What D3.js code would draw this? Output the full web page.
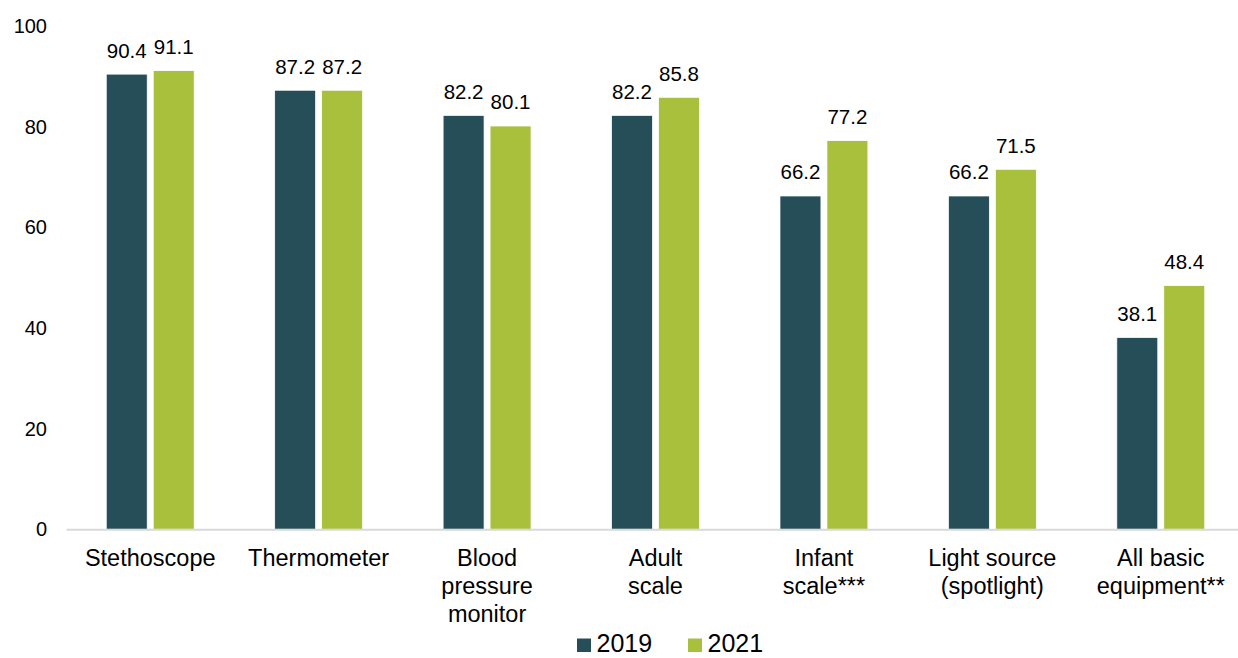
<!DOCTYPE html>
<html>
<head>
<meta charset="utf-8">
<script src="https://cdn.jsdelivr.net/npm/d3@7"></script>
<style>
  body { margin: 0; background: #fff; }
  svg { display: block; font-family: "Liberation Sans", Arial, sans-serif; }
</style>
</head>
<body>
<svg id="chart"></svg>
<script>
// Chart data
var categories = [
    ["Stethoscope"],
    ["Thermometer"],
    ["Blood", "pressure", "monitor"],
    ["Adult", "scale"],
    ["Infant", "scale***"],
    ["Light source", "(spotlight)"],
    ["All basic", "equipment**"]
];
var years = ["2019", "2021"];
var values2019 = [90.4, 87.2, 82.2, 82.2, 66.2, 66.2, 38.1];
var values2021 = [91.1, 87.2, 80.1, 85.8, 77.2, 71.5, 48.4];
var yTicks = [0, 20, 40, 60, 80, 100];

var colors = { "2019": "#264e59", "2021": "#a9c03c" };

var w = 1238, h = 658;
var svg = d3.select("#chart").attr("width", w).attr("height", h);

var catKeys = categories.map(function (c) { return c.join(" "); });

// x scale for categories
var xScale = d3.scaleBand()
    .domain(catKeys)
    .range([66, 1245])
    .paddingInner(0.478)
    .paddingOuter(0.239);

// inner scale for the two years
var xInner = d3.scaleBand()
    .domain(years)
    .range([0, xScale.bandwidth()])
    .paddingInner(0.128);

var yScale = d3.scaleLinear()
    .domain([0, 100])
    .range([529.3, 25.8]);

// y tick labels (no axis line)
svg.append("g")
    .selectAll("text")
    .data(yTicks)
    .enter().append("text")
    .attr("x", 47)
    .attr("y", function (d) { return yScale(d); })
    .attr("dy", "0.35em")
    .attr("text-anchor", "end")
    .attr("font-size", "20px")
    .attr("fill", "#000")
    .text(function (d) { return d; });

// bars
var rows = [];
catKeys.forEach(function (k, i) {
    rows.push({ cat: k, year: "2019", value: values2019[i] });
    rows.push({ cat: k, year: "2021", value: values2021[i] });
});

svg.append("g")
    .selectAll("rect")
    .data(rows)
    .enter().append("rect")
    .attr("x", function (d) { return xScale(d.cat) + xInner(d.year); })
    .attr("y", function (d) { return yScale(d.value); })
    .attr("width", xInner.bandwidth())
    .attr("height", function (d) { return yScale(0) - yScale(d.value); })
    .attr("fill", function (d) { return colors[d.year]; })
    .attr("stroke", "#ffffff")
    .attr("stroke-width", 0.75);

// value labels
svg.append("g")
    .selectAll("text")
    .data(rows)
    .enter().append("text")
    .attr("x", function (d) { return xScale(d.cat) + xInner(d.year) + xInner.bandwidth() / 2; })
    .attr("y", function (d) { return yScale(d.value) - 16.5; })
    .attr("text-anchor", "middle")
    .attr("font-size", "20.5px")
    .attr("fill", "#000")
    .text(function (d) { return d.value.toFixed(1); });

// x axis line
var xAxis = d3.axisBottom(xScale).tickSize(0).tickFormat("");
var axisG = svg.append("g")
    .attr("transform", "translate(0," + yScale(0) + ")")
    .call(xAxis);
axisG.select(".domain").attr("stroke", "#d9d9d9").attr("stroke-width", 2);

// category labels (multi-line)
var catLabels = svg.append("g")
    .selectAll("text")
    .data(categories)
    .enter().append("text")
    .attr("x", function (d) { return xScale(d.join(" ")) + xScale.bandwidth() / 2; })
    .attr("y", 565.5)
    .attr("text-anchor", "middle")
    .attr("font-size", "23.5px")
    .attr("fill", "#000");

catLabels.selectAll("tspan")
    .data(function (d) { return d; })
    .enter().append("tspan")
    .attr("x", function () { return d3.select(this.parentNode).attr("x"); })
    .attr("dy", function (d, i) { return i === 0 ? 0 : 28; })
    .text(function (d) { return d; });

// legend (nudged up a little so the text is not clipped by the bottom edge)
var legendX = { "2019": 577, "2021": 688 };
var legend = svg.append("g");
legend.selectAll("rect")
    .data(years)
    .enter().append("rect")
    .attr("x", function (d) { return legendX[d]; })
    .attr("y", 638.5)
    .attr("width", 14)
    .attr("height", 13.5)
    .attr("fill", function (d) { return colors[d]; });
legend.selectAll("text")
    .data(years)
    .enter().append("text")
    .attr("x", function (d) { return legendX[d] + 19.5; })
    .attr("y", 651.5)
    .attr("font-size", "25px")
    .attr("fill", "#000")
    .text(function (d) { return d; });
</script>
</body>
</html>
